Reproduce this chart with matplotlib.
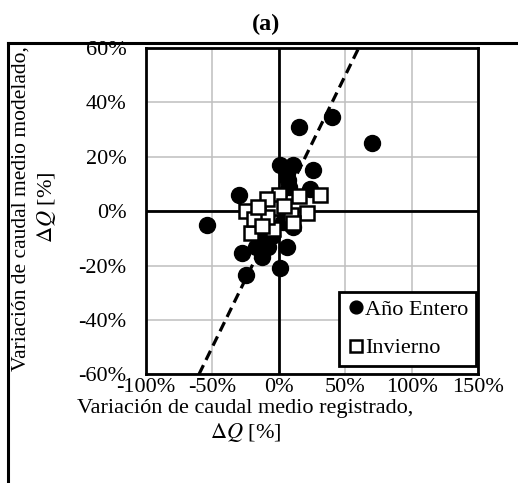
import matplotlib
matplotlib.use("Agg")
import matplotlib.pyplot as plt
from matplotlib.lines import Line2D
from matplotlib.ticker import FuncFormatter

plt.rcParams['font.family'] = ['Liberation Serif', 'DejaVu Serif']
plt.rcParams['mathtext.fontset'] = 'stix'

# Variacion de caudal medio [%]: registrado (x) vs modelado (y)
x_anio = [-54, 40, 15, 70, 26, 1, 10.5, 7, 6, 8, -30, 23.5, -28, -25, -13, 1, 6, 11, -8, -14, -5, -10, -17, 3]
y_anio = [-5, 34.5, 31, 25, 15, 17, 17, 11.5, 14, 9, 6, 8, -15.5, -23.5, -17, -21, -13, -6, -13, -12.5, -9, -10, -13, -4]

x_inv = [-25, 0, 15, 31, -5, 9, 21, -21, -4, -9, -19, 11, -13, -9, -16, 4]
y_inv = [0, 6, 5.5, 6, 1, -1.5, -0.5, -8, -6.5, -2, -3, -4.5, -5.5, 4.5, 1.5, 2]

linea_x = [-60, 60]
linea_y = [-60, 60]

xticks = [-100, -50, 0, 50, 100, 150]
yticks = [-60, -40, -20, 0, 20, 40, 60]

W, H = 518, 483
fig = plt.figure(figsize=(W / 100, H / 100), dpi=100)
ax = fig.add_axes([0.2813, 0.225, 0.6424, 0.6756])

ax.set_xlim(-100, 150)
ax.set_ylim(-60, 60)
ax.set_xticks(xticks)
ax.set_yticks(yticks)
pct = FuncFormatter(lambda v, p: f"{v:.0f}%")
ax.xaxis.set_major_formatter(pct)
ax.yaxis.set_major_formatter(pct)
ax.tick_params(length=0, labelsize=16)
ax.tick_params(axis='y', pad=14)
ax.tick_params(axis='x', pad=3)
ax.grid(True, color='#bfbfbf', linewidth=1.1)
ax.set_axisbelow(True)
for s in ax.spines.values():
    s.set_linewidth(2)
    s.set_color('black')

ax.axhline(0, color='black', linewidth=2, zorder=1.5)
ax.axvline(0, color='black', linewidth=2, zorder=1.5)

ax.plot(linea_x, linea_y, color='black', linewidth=2.3, linestyle=(0, (3.2, 1.8)), zorder=2)

ax.plot(x_anio, y_anio, linestyle='none', marker='o', markersize=11.5,
        color='black', label='Año Entero', zorder=3)
ax.plot(x_inv, y_inv, linestyle='none', marker='s', markersize=10.5,
        markerfacecolor='white', markeredgecolor='black', markeredgewidth=1.8,
        label='Invierno', zorder=4)

leg = ax.legend(loc='lower right', bbox_to_anchor=(0.9925, 0.025), fontsize=16,
                frameon=True, fancybox=False, edgecolor='black', framealpha=1,
                handletextpad=0.0, handlelength=0.8, borderpad=0.35, labelspacing=0.8,
                borderaxespad=0, markerscale=0.8)
leg.get_frame().set_linewidth(2)

# titulos de ejes como textos de figura (dos lineas cada uno)
fig.text(245 / W, 1 - 408 / H, "Variación de caudal medio registrado,", fontsize=16,
         ha='center', va='center')
fig.text(246 / W, 1 - 432 / H, "$\\Delta Q$ [%]", fontsize=16, ha='center', va='center')
fig.text(21 / W, 1 - 209 / H, "Variación de caudal medio modelado,", fontsize=15.5,
         ha='center', va='center', rotation=90)
fig.text(46 / W, 1 - 207 / H, "$\\Delta Q$ [%]", fontsize=16, ha='center', va='center',
         rotation=90)

fig.text(266 / W, 1 - 24 / H, "(a)", fontsize=17.5, fontweight='bold', ha='center', va='center')

# marco exterior
fig.add_artist(Line2D([8 / W, 1], [1 - 43 / H, 1 - 43 / H], color='black',
                      linewidth=2.2, transform=fig.transFigure))
fig.add_artist(Line2D([8 / W, 8 / W], [0, 1 - 43 / H], color='black',
                      linewidth=2.2, transform=fig.transFigure))

fig.savefig("out.png", dpi=100)
